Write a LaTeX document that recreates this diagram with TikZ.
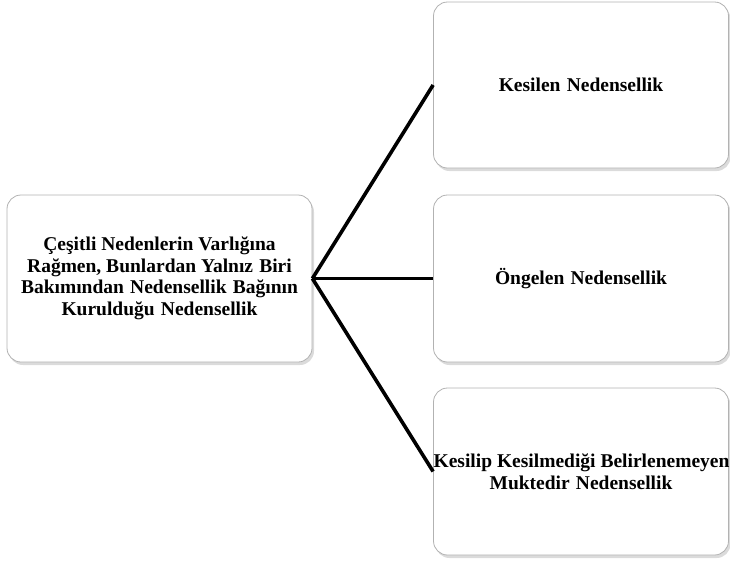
\documentclass[tikz,border=0pt]{standalone}
\usepackage{fontspec}
\setmainfont{Liberation Serif}
\usetikzlibrary{shadows}
\newcommand{\wsp}{\hspace{0.32em}}
\begin{document}
\begin{tikzpicture}[x=1pt,y=-1pt,
  box/.style={draw=gray!60, line width=0.8pt, fill=white, rounded corners=14pt,
    inner sep=0pt, align=center, font=\fontsize{19.5}{21.5}\selectfont\bfseries,
    drop shadow={shadow xshift=2pt, shadow yshift=-3pt, opacity=0.35, fill=gray!80}},
  link/.style={line width=3.6pt, black}]
\useasboundingbox (0,0) rectangle (730,560);
\node[box, minimum width=305pt, minimum height=167pt] (src) at (159.5,278.5)
  {Çeşitli Nedenlerin Varlığına\\Rağmen, Bunlardan Yalnız\wsp Biri\\Bakımından\wsp Nedensellik\wsp Bağının\\Kurulduğu\wsp Nedensellik};
\node[box, minimum width=295pt, minimum height=166pt] (a) at (581,85)
  {Kesilen\wsp Nedensellik};
\node[box, minimum width=295pt, minimum height=167pt] (b) at (581,278.5)
  {Öngelen\wsp Nedensellik};
\node[box, minimum width=295pt, minimum height=167pt] (c) at (581,471.5)
  {\makebox[280pt]{\hspace{1pt}Kesilip Kesilmediği Belirlenemeyen}\\Muktedir\wsp Nedensellik};
\draw[link] (src.east) -- (a.west);
\draw[link] (src.east) -- (b.west);
\draw[link] (src.east) -- (c.west);
\end{tikzpicture}
\end{document}
